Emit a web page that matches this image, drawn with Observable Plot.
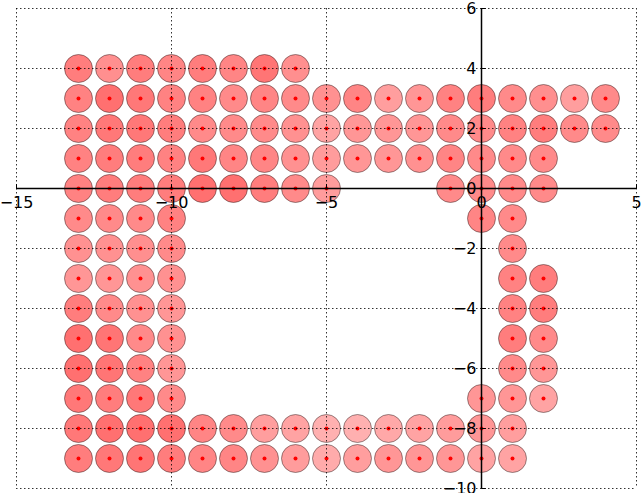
<!DOCTYPE html>
<html><head><meta charset="utf-8">
<script src="https://cdn.jsdelivr.net/npm/d3@7"></script>
<script src="https://cdn.jsdelivr.net/npm/@observablehq/plot@0.6"></script>
<style>html,body{margin:0;padding:0;background:#fff;}</style>
</head><body><div id="chart"></div>
<script>
const rowY = [4, 3, 2, 1, 0, -1, -2, -3, -4, -5, -6, -7, -8, -9];
const rowX = [
  [-13,-12,-11,-10,-9,-8,-7,-6],
  [-13,-12,-11,-10,-9,-8,-7,-6,-5,-4,-3,-2,-1,0,1,2,3,4],
  [-13,-12,-11,-10,-9,-8,-7,-6,-5,-4,-3,-2,-1,0,1,2,3,4],
  [-13,-12,-11,-10,-9,-8,-7,-6,-5,-4,-3,-2,-1,0,1,2],
  [-13,-12,-11,-10,-9,-8,-7,-6,-5,-1,0,1,2],
  [-13,-12,-11,-10,0,1],
  [-13,-12,-11,-10,1],
  [-13,-12,-11,-10,1,2],
  [-13,-12,-11,-10,1,2],
  [-13,-12,-11,-10,1,2],
  [-13,-12,-11,-10,1,2],
  [-13,-12,-11,-10,0,1,2],
  [-13,-12,-11,-10,-9,-8,-7,-6,-5,-4,-3,-2,-1,0,1],
  [-13,-12,-11,-10,-9,-8,-7,-6,-5,-4,-3,-2,-1,0,1]
];
const rowAlpha = [
  [0.51,0.44,0.51,0.48,0.51,0.48,0.54,0.44],
  [0.49,0.56,0.53,0.49,0.49,0.46,0.48,0.46,0.43,0.48,0.38,0.41,0.49,0.51,0.46,0.44,0.38,0.46],
  [0.49,0.53,0.53,0.51,0.46,0.46,0.46,0.43,0.36,0.41,0.41,0.41,0.46,0.46,0.49,0.51,0.46,0.46],
  [0.49,0.51,0.51,0.49,0.53,0.48,0.48,0.43,0.39,0.41,0.41,0.43,0.48,0.46,0.46,0.46],
  [0.49,0.51,0.51,0.51,0.56,0.56,0.51,0.46,0.39,0.46,0.46,0.46,0.46],
  [0.46,0.46,0.46,0.49,0.48,0.46],
  [0.43,0.43,0.44,0.46,0.46],
  [0.41,0.41,0.43,0.43,0.49,0.51],
  [0.51,0.46,0.43,0.41,0.49,0.51],
  [0.56,0.54,0.46,0.43,0.51,0.46],
  [0.56,0.54,0.49,0.41,0.46,0.41],
  [0.53,0.51,0.53,0.46,0.41,0.41,0.36],
  [0.53,0.56,0.56,0.56,0.48,0.46,0.38,0.36,0.31,0.31,0.34,0.36,0.39,0.41,0.38],
  [0.51,0.53,0.54,0.51,0.48,0.48,0.43,0.39,0.33,0.38,0.41,0.41,0.41,0.36,0.36]
];
const xTicks = [-15, -10, -5, 0, 5];
const yTicks = [-10, -8, -6, -4, -2, 0, 2, 4, 6];

const points = [];
rowY.forEach((y, i) => rowX[i].forEach((x, j) => points.push({x, y, a: rowAlpha[i][j]})));

const fmt = d => d < 0 ? "\u2212" + Math.abs(d) : String(d);
const line = {draw(ctx, l) { ctx.moveTo(0, 0); ctx.lineTo(0, -l); }};
const grid = {stroke: "black", strokeWidth: 1, strokeDasharray: "1.5,2.5", strokeOpacity: 0.8};

const chart = Plot.plot({
  width: 641, height: 493,
  marginLeft: 16, marginRight: 5, marginTop: 8, marginBottom: 5,
  x: {domain: [-15, 5], axis: null},
  y: {domain: [-10, 6], axis: null},
  style: {fontFamily: "DejaVu Sans", background: "white", overflow: "visible"},
  marks: [
    Plot.dot(points, {x: "x", y: "y", r: 14, fill: "red", fillOpacity: "a", stroke: "black", strokeOpacity: 0.4, strokeWidth: 1}),
    Plot.dot(points, {x: "x", y: "y", r: 2, fill: "red", stroke: "none"}),
    Plot.ruleX(xTicks, grid),
    Plot.ruleY(yTicks, grid),
    Plot.ruleX([0], {stroke: "black", strokeWidth: 1.5}),
    Plot.ruleY([0], {stroke: "black", strokeWidth: 1.5}),
    Plot.vector(xTicks, {x: d => d, y: 0, length: 4, rotate: 0, anchor: "start", shape: line, stroke: "black", strokeWidth: 1}),
    Plot.vector(yTicks, {x: 0, y: d => d, length: 4, rotate: 90, anchor: "start", shape: line, stroke: "black", strokeWidth: 1}),
    Plot.text(xTicks, {x: d => d, y: 0, text: fmt, lineAnchor: "top", dy: 8, fontSize: 16, fill: "black"}),
    Plot.text(yTicks, {x: 0, y: d => d, text: fmt, textAnchor: "end", dx: -5, fontSize: 16, fill: "black"})
  ]
});
document.getElementById("chart").appendChild(chart);
</script>
</body></html>
